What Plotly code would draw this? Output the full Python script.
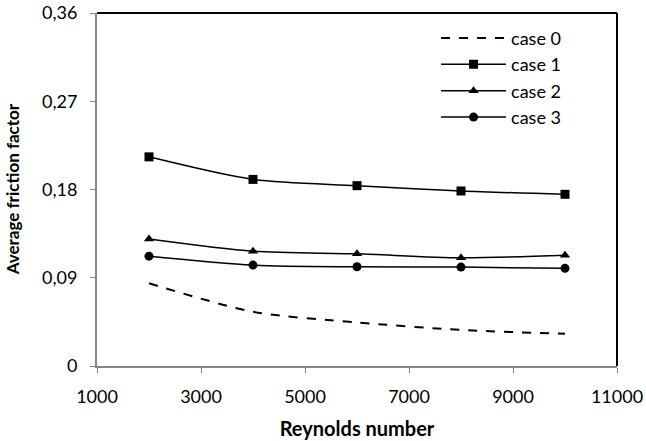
import plotly.graph_objects as go

# Reynolds numbers and average friction factor per case
reynolds = [2000, 4000, 6000, 8000, 10000]
case0 = [0.0844, 0.0553, 0.0445, 0.0368, 0.0328]
case1 = [0.2133, 0.1903, 0.1839, 0.1785, 0.1751]
case2 = [0.1295, 0.1171, 0.1144, 0.1103, 0.1130]
case3 = [0.1120, 0.1029, 0.1012, 0.1009, 0.0996]

x_ticks = [1000, 3000, 5000, 7000, 9000, 11000]
x_labels = ["1000", "3000", "5000", "7000", "9000", "11000"]
y_ticks = [0, 0.09, 0.18, 0.27, 0.36]
y_labels = ["0", "0,09", "0,18", "0,27", "0,36"]

FONT = "Lato, 'Open Sans', sans-serif"
AXIS_GRAY = "#868686"

fig = go.Figure()
fig.add_trace(go.Scatter(x=reynolds, y=case0, name="case 0", mode="lines", legendgroup="c0",
                         line=dict(color="black", width=2, dash="dash", shape="spline", smoothing=0.8)))
fig.add_trace(go.Scatter(x=reynolds, y=case1, name="case 1", mode="lines+markers", legendgroup="c1",
                         line=dict(color="black", width=1.5, shape="spline", smoothing=0.8),
                         marker=dict(symbol="square", size=9, color="black")))
fig.add_trace(go.Scatter(x=reynolds, y=case2, name="case 2", mode="lines+markers", legendgroup="c2",
                         line=dict(color="black", width=1.5, shape="spline", smoothing=0.8),
                         marker=dict(symbol="triangle-up", size=9, color="black")))
fig.add_trace(go.Scatter(x=reynolds, y=case3, name="case 3", mode="lines+markers", legendgroup="c3",
                         line=dict(color="black", width=1.5, shape="spline", smoothing=0.8),
                         marker=dict(symbol="circle", size=9, color="black")))

# black frame on top and right of the plot area
fig.add_shape(type="line", xref="paper", yref="paper", x0=0, x1=1, y0=1, y1=1,
              line=dict(color="black", width=2))
fig.add_shape(type="line", xref="paper", yref="paper", x0=1, x1=1, y0=0, y1=1,
              line=dict(color="black", width=2))

# y-axis title, placed near the left edge of the figure
fig.add_annotation(text="<b>Average friction factor</b>", xref="paper", yref="paper",
                   x=-0.162, y=0.5, xanchor="center", yanchor="middle",
                   textangle=-90, showarrow=False, font=dict(size=17, color="black"))

fig.update_layout(
    width=646, height=441,
    margin=dict(l=97, r=29, t=13, b=75),
    paper_bgcolor="white", plot_bgcolor="white",
    font=dict(family=FONT, size=18, color="black"),
    showlegend=True,
    legend=dict(x=0.652, y=0.981, xanchor="left", yanchor="top",
                bgcolor="rgba(0,0,0,0)", font=dict(size=18),
                itemwidth=65, tracegroupgap=4.5, traceorder="normal"),
    xaxis=dict(range=[1000, 11000], tickvals=x_ticks, ticktext=x_labels,
               showgrid=False, zeroline=False, automargin=False,
               showline=True, linecolor=AXIS_GRAY, linewidth=2,
               ticks="outside", tickcolor=AXIS_GRAY, ticklen=5, tickwidth=1,
               tickfont=dict(size=18), ticklabelstandoff=8, ticklabeloverflow="allow",
               title=dict(text="<b>Reynolds number</b>", font=dict(size=20), standoff=16)),
    yaxis=dict(range=[0, 0.36], tickvals=y_ticks, ticktext=y_labels, showgrid=False,
               zeroline=False, showline=True, linecolor=AXIS_GRAY, linewidth=2,
               automargin=False,
               ticks="outside", tickcolor=AXIS_GRAY, ticklen=5, tickwidth=1,
               tickfont=dict(size=18), ticklabelstandoff=9, ticklabeloverflow="allow"),
)

fig.write_html("out.html")
